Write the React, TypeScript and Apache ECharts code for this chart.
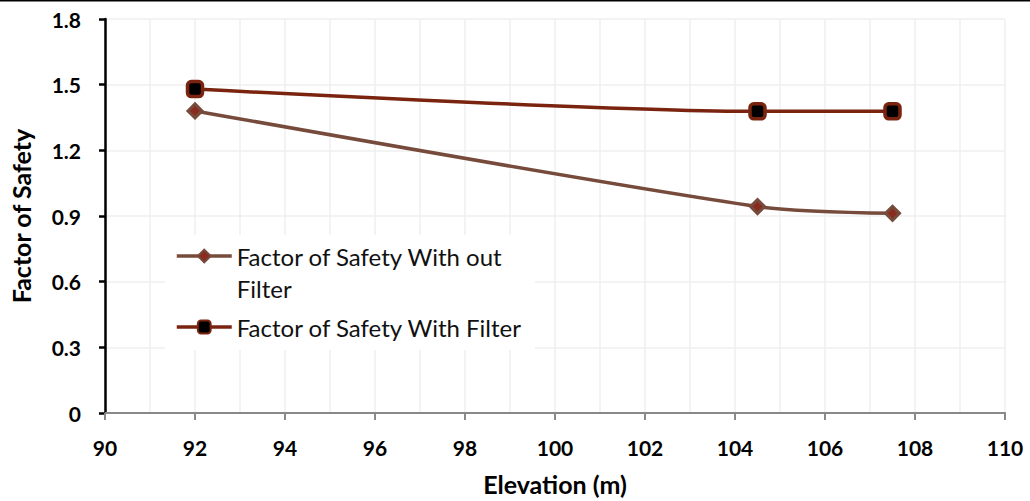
import React, { useEffect, useRef } from "react";
import * as echarts from "echarts";

const elevations = [92, 104.5, 107.5];
const fosWithoutFilter = [1.38, 0.943, 0.912];
const fosWithFilter = [1.48, 1.378, 1.378];
const seriesNames = ["Factor of Safety With out Filter", "Factor of Safety With Filter"];

export default function App() {
  const ref = useRef<HTMLDivElement>(null);
  useEffect(() => {
    const chart = echarts.init(ref.current!, null, { renderer: "svg" });
    const font = "Lato, 'Noto Sans', sans-serif";
    chart.setOption({
      animation: false,
      backgroundColor: "#ffffff",
      grid: { left: 103, right: 25, top: 19, bottom: 83 },
      graphic: [
        { type: "line", shape: { x1: 0, y1: 0.75, x2: 1030, y2: 0.75 }, style: { stroke: "#000", lineWidth: 1.5 } },
        { type: "rect", z: 3, shape: { x: 165, y: 235, width: 370, height: 115 }, style: { fill: "#ffffff" } },
      ],
      xAxis: {
        type: "value",
        min: 90,
        max: 110,
        interval: 2,
        name: "Elevation (m)",
        nameLocation: "middle",
        nameGap: 58,
        nameTextStyle: { fontFamily: font, fontWeight: "bold", fontSize: 25, color: "#000" },
        axisLine: { show: true, lineStyle: { color: "#898989", width: 2 } },
        axisTick: { show: true, length: 7, lineStyle: { color: "#898989", width: 2 } },
        axisLabel: { fontFamily: font, fontWeight: "bold", fontSize: 21, color: "#000", margin: 24 },
        splitLine: { show: true, lineStyle: { color: "#efefef", width: 1.5 } },
        minorTick: { show: false, splitNumber: 2 },
        minorSplitLine: { show: true, lineStyle: { color: "#efefef", width: 1.5 } },
      },
      yAxis: {
        type: "value",
        min: 0,
        max: 1.8,
        interval: 0.3,
        name: "Factor of Safety",
        nameLocation: "middle",
        nameGap: 72,
        nameTextStyle: { fontFamily: font, fontWeight: "bold", fontSize: 25, color: "#000" },
        axisLine: { show: true, lineStyle: { color: "#000", width: 2.5 } },
        axisTick: { show: true, length: 6, lineStyle: { color: "#000", width: 2.5 } },
        axisLabel: {
          fontFamily: font,
          fontWeight: "bold",
          fontSize: 21,
          color: "#000",
          margin: 24,
          formatter: (v: number) => (v === 0 ? "0" : v.toFixed(1)),
        },
        splitLine: { show: true, lineStyle: { color: "#efefef", width: 1.5 } },
      },
      legend: {
        orient: "vertical",
        left: 175,
        top: 208,
        z: 6,
        padding: 0,
        itemWidth: 55,
        itemHeight: 16,
        itemGap: 7,
        data: seriesNames,
        lineStyle: { width: 3.5 },
        formatter: (name: string) => (name === seriesNames[0] ? "\u00a0\nFactor of Safety With out\nFilter" : name),
        textStyle: { fontFamily: font, fontSize: 24, color: "#111", lineHeight: 32 },
      },
      series: [
        {
          name: seriesNames[0],
          type: "line",
          smooth: 0.25,
          data: elevations.map((x, i) => [x, fosWithoutFilter[i]]),
          lineStyle: { color: "#774b3c", width: 3.5 },
          symbol: "diamond",
          symbolSize: 14,
          itemStyle: { color: "#8a2b1f", borderColor: "#774b3c", borderWidth: 3 },
        },
        {
          name: seriesNames[1],
          type: "line",
          smooth: 0.25,
          data: elevations.map((x, i) => [x, fosWithFilter[i]]),
          lineStyle: { color: "#7a2410", width: 3.5 },
          symbol: "roundRect",
          symbolSize: 15,
          itemStyle: { color: "#000000", borderColor: "#7a2410", borderWidth: 3.5 },
        },
      ],
    });
    return () => chart.dispose();
  }, []);
  return <div ref={ref} style={{ position: "fixed", left: 0, top: 0, width: 1030, height: 501 }} />;
}
